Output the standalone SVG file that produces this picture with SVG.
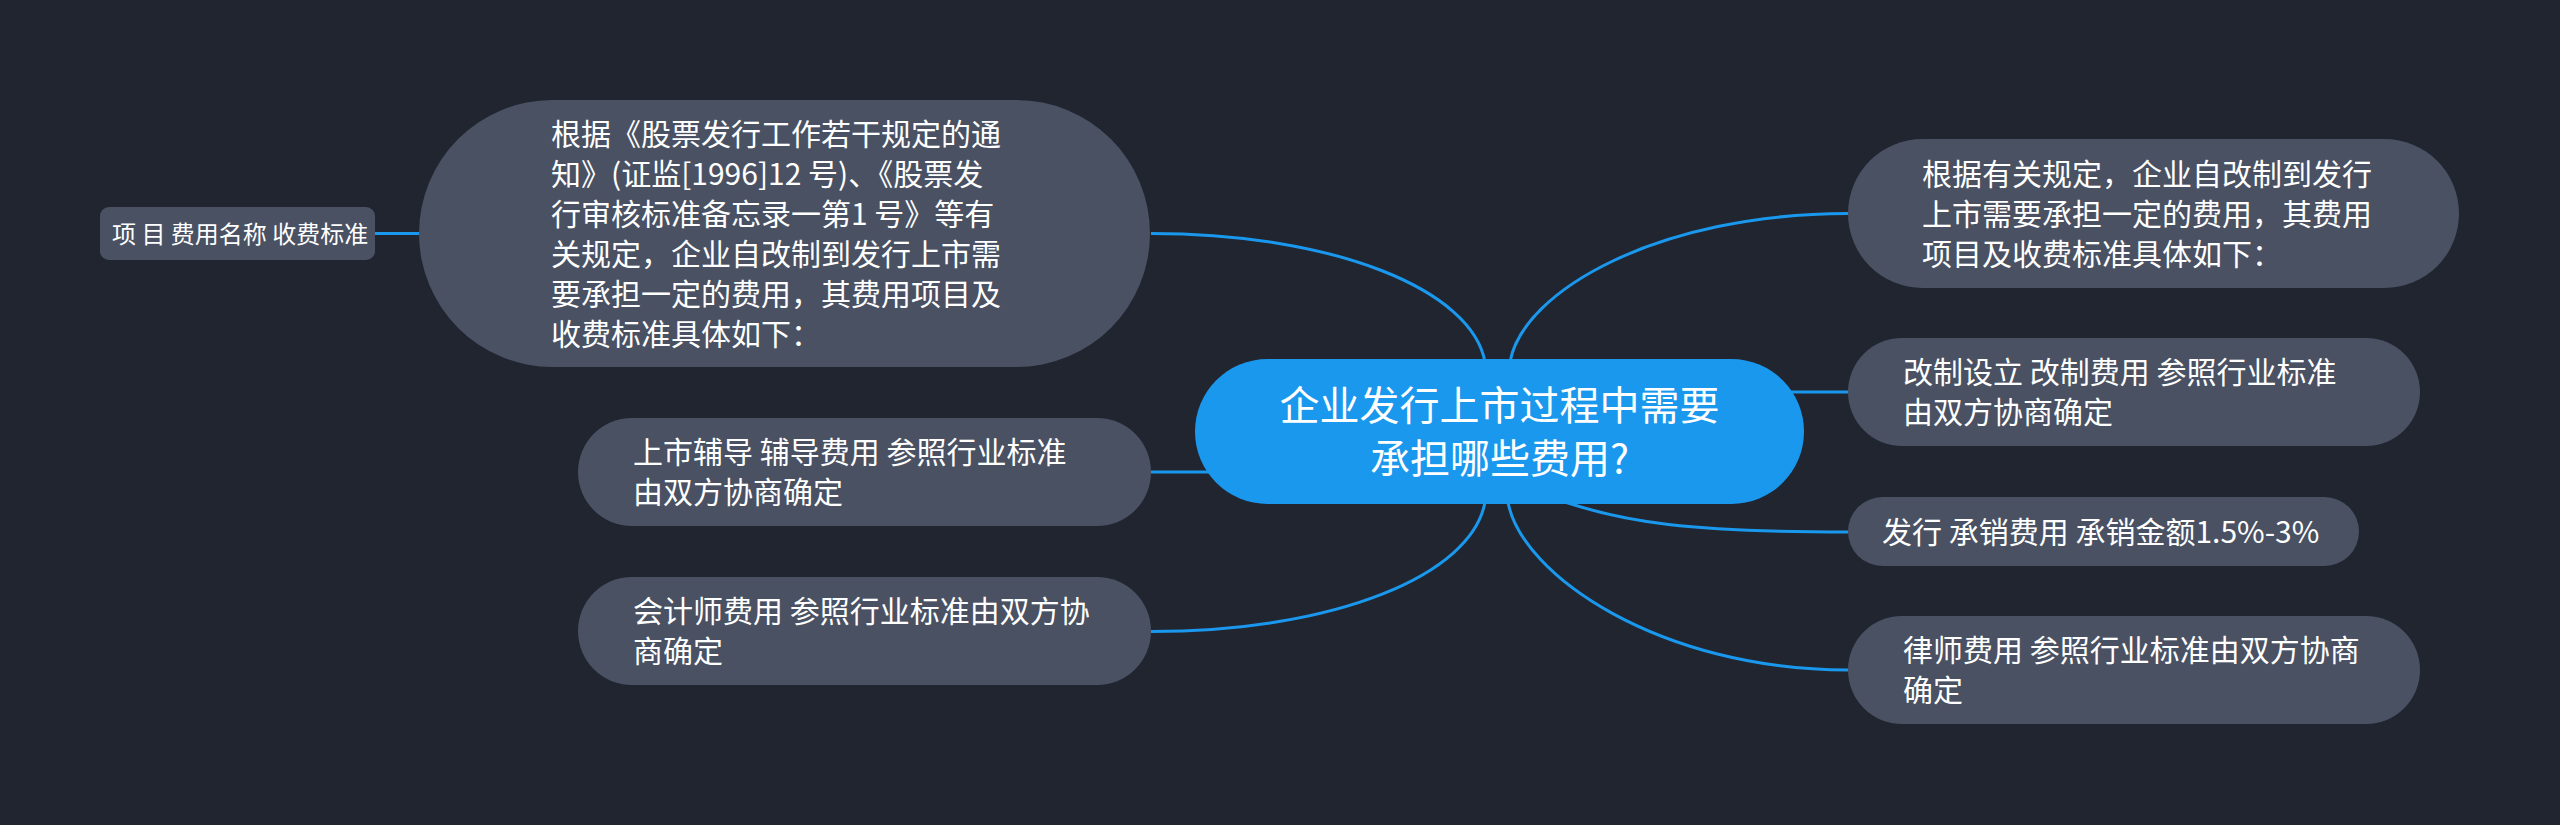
<svg xmlns="http://www.w3.org/2000/svg" width="2560" height="825" viewBox="0 0 2560 825">
<style>
.bg{fill:#212530}
.node{fill:#495163}
.root{fill:#1a98ee}
.link{fill:none;stroke:#1a98ee;stroke-width:3}
text{font-family:"Noto Sans CJK SC","Noto Sans",sans-serif;fill:#ffffff}
.t30{font-size:30px}
.t24{font-size:24px}
.t40{font-size:40px}
</style>
<rect class="bg" x="0" y="0" width="2560" height="825"/>
<g id="connectors">
<path class="link" d="M375,233.5 L425,233.5"/>
<path class="link" d="M1485,362 C1472,290 1335,233.5 1151,233.5"/>
<path class="link" d="M1510,362 C1523,290 1660,213.5 1848,213.5"/>
<path class="link" d="M1780,392 L1848,392"/>
<path class="link" d="M1540,493 C1620,525 1700,532 1848,532"/>
<path class="link" d="M1508,502 C1521,575 1660,670 1848,670"/>
<path class="link" d="M1220,472 L1151,472"/>
<path class="link" d="M1485,502 C1472,575 1335,631.5 1151,631.5"/>
</g>
<g id="root">
<rect class="root" x="1195" y="359" width="609" height="145" rx="72.5"/>
<text class="t40" x="1499.5" y="420" text-anchor="middle">企业发行上市过程中需要</text>
<text class="t40" x="1499.5" y="473" text-anchor="middle">承担哪些费用?</text>
</g>
<g id="node-left-big">
<rect class="node" x="419" y="100" width="731" height="267" rx="133.5"/>
<text class="t30" x="551" y="145">根据《股票发行工作若干规定的通</text>
<text class="t30" x="551" y="185">知》(证监[1996]12 号)、《股票发</text>
<text class="t30" x="551" y="225">行审核标准备忘录一第1 号》等有</text>
<text class="t30" x="551" y="265">关规定，企业自改制到发行上市需</text>
<text class="t30" x="551" y="305">要承担一定的费用，其费用项目及</text>
<text class="t30" x="551" y="345">收费标准具体如下：</text>
</g>
<g id="node-items">
<rect class="node" x="100" y="207" width="275" height="53" rx="9"/>
<text class="t24" x="112" y="242.5">项 目 费用名称 收费标准</text>
</g>
<g id="node-fudao">
<rect class="node" x="578" y="418" width="573" height="108" rx="54"/>
<text class="t30" x="633" y="463">上市辅导 辅导费用 参照行业标准</text>
<text class="t30" x="633" y="503">由双方协商确定</text>
</g>
<g id="node-kuaiji">
<rect class="node" x="578" y="577" width="573" height="108" rx="54"/>
<text class="t30" x="633" y="622">会计师费用 参照行业标准由双方协</text>
<text class="t30" x="633" y="662">商确定</text>
</g>
<g id="node-right-top">
<rect class="node" x="1848" y="139" width="611" height="149" rx="74.5"/>
<text class="t30" x="1922" y="184.5">根据有关规定，企业自改制到发行</text>
<text class="t30" x="1922" y="224.5">上市需要承担一定的费用，其费用</text>
<text class="t30" x="1922" y="264.5">项目及收费标准具体如下：</text>
</g>
<g id="node-gaizhi">
<rect class="node" x="1848" y="338" width="572" height="108" rx="54"/>
<text class="t30" x="1903" y="383">改制设立 改制费用 参照行业标准</text>
<text class="t30" x="1903" y="423">由双方协商确定</text>
</g>
<g id="node-faxing">
<rect class="node" x="1848" y="497" width="511" height="69" rx="34.5"/>
<text class="t30" x="1882" y="543">发行 承销费用 承销金额1.5%-3%</text>
</g>
<g id="node-lvshi">
<rect class="node" x="1848" y="616" width="572" height="108" rx="54"/>
<text class="t30" x="1903" y="661">律师费用 参照行业标准由双方协商</text>
<text class="t30" x="1903" y="701">确定</text>
</g>
</svg>
